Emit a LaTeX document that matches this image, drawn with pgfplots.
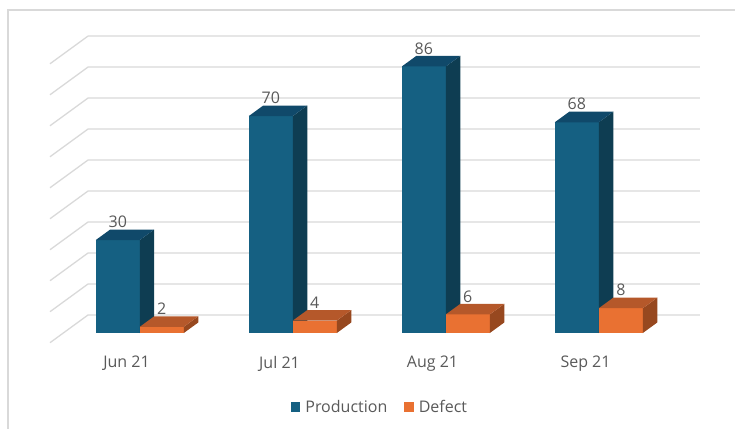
\documentclass[border=0pt]{standalone}
\usepackage{fontspec}
\setmainfont{Open Sans}
\usepackage{pgfplots}
\usepackage{pgfplotstable}
\pgfplotsset{compat=1.18}
\definecolor{prodF}{HTML}{156082}
\definecolor{prodT}{HTML}{10496A}
\definecolor{prodS}{HTML}{0E3D52}
\definecolor{defF}{HTML}{E97132}
\definecolor{defT}{HTML}{B5582A}
\definecolor{defS}{HTML}{97481F}
\definecolor{gridc}{HTML}{D9D9D9}
\definecolor{txt}{HTML}{595959}

\pgfplotstableread[col sep=comma,row sep=\\]{
idx,month,prod,def\\
0,Jun 21,30,2\\
1,Jul 21,70,4\\
2,Aug 21,86,6\\
3,Sep 21,68,8\\
}\datatable

\newcommand\labfont{\fontsize{16}{19}\selectfont}
\newcommand\A{0.2484}
\newcommand\B{8.94}
\newcommand\DZ{0.35}
\newcommand\DO{0.73}

\newcommand\cuboid[5]{%
  \pgfmathsetmacro\fxa{#1+\A*\DZ}%
  \pgfmathsetmacro\fxb{#2+\A*\DZ}%
  \pgfmathsetmacro\bxa{#1+\A*\DO}%
  \pgfmathsetmacro\bxb{#2+\A*\DO}%
  \pgfmathsetmacro\fyl{\B*\DZ}%
  \pgfmathsetmacro\fyh{#3+\B*\DZ}%
  \pgfmathsetmacro\byl{\B*\DO}%
  \pgfmathsetmacro\byh{#3+\B*\DO}%
  \pgfmathsetmacro\lx{(#1+#2)/2+\A*\DZ}%
  \edef\tmp{%
   \noexpand\addplot[fill=#4F,draw=none,forget plot] coordinates {(\fxa,\fyl) (\fxb,\fyl) (\fxb,\fyh) (\fxa,\fyh)} -- cycle;
   \noexpand\addplot[fill=#4S,draw=none,forget plot] coordinates {(\fxb,\fyl) (\bxb,\byl) (\bxb,\byh) (\fxb,\fyh)} -- cycle;
   \noexpand\addplot[fill=#4T,draw=none,forget plot] coordinates {(\fxa,\fyh) (\fxb,\fyh) (\bxb,\byh) (\bxa,\byh)} -- cycle;
   \noexpand\node[anchor=south,inner sep=1.5pt,text=txt,font=\noexpand\labfont] at (axis cs:\lx,\byh) {#5};
  }\tmp
}

\begin{document}
\begin{tikzpicture}
\begin{axis}[
  x=153pt, y=3.099pt,
  xmin=-0.5, xmax=3.748, ymin=0, ymax=98.96,
  axis line style={draw=none},
  ytick=\empty,
  xtick={0,1,2,3},
  xticklabels from table={\datatable}{month},
  major tick length=0pt,
  xticklabel style={font=\labfont, text=txt, yshift=-10pt},
  clip=false,
  legend image code/.code={\draw[#1,draw=none] (0pt,-4.7pt) rectangle (9.5pt,4.7pt);},
  legend style={at={(0.5077,-0.2097)}, anchor=center, draw=none, fill=none,
    legend columns=2, font=\labfont, text=txt,
    /tikz/every odd column/.append style={column sep=3pt},
    /tikz/every even column/.append style={column sep=15pt}},
  legend cell align=left,
]
\addlegendimage{fill=prodF}
\addlegendentry{Production}
\addlegendimage{fill=defF}
\addlegendentry{Defect}

\pgfplotsforeachungrouped \z in {0,10,...,90}{%
  \pgfmathsetmacro\zb{\z+\B}%
  \edef\tmp{\noexpand\addplot[draw=gridc,line width=1.3pt,line join=round,forget plot] coordinates {(-0.5,\z) (-0.2516,\zb) (3.748,\zb)};}\tmp
}

\pgfplotsforeachungrouped \i in {0,...,3}{%
  \pgfplotstablegetelem{\i}{prod}\of\datatable \let\hP\pgfplotsretval
  \pgfplotstablegetelem{\i}{def}\of\datatable \let\hD\pgfplotsretval
  \pgfmathsetmacro\xl{\i-0.2876}%
  \pgfmathsetmacro\xr{\i+0.2876}%
  \cuboid{\xl}{\i}{\hP}{prod}{\hP}%
  \cuboid{\i}{\xr}{\hD}{def}{\hD}%
}

\draw[gridc, line width=1.5pt] (axis cs:-0.7745,-31.4) -- (axis cs:-0.7745,107.36) -- (axis cs:4.042,107.36);
\coordinate (TL) at (axis cs:-0.8268,110.58);
\coordinate (BR) at (axis cs:3.977,-27.53);
\end{axis}
\pgfresetboundingbox
\useasboundingbox (TL) rectangle (BR);
\end{tikzpicture}
\end{document}
